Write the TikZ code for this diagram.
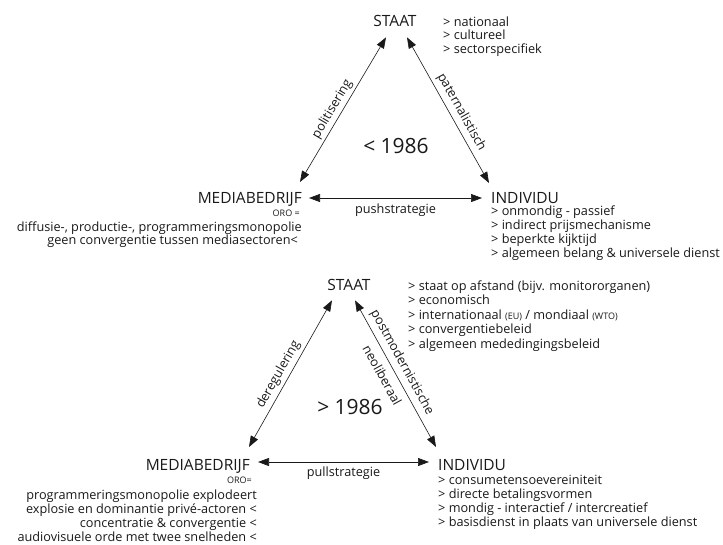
\documentclass[tikz,border=0pt]{standalone}
\usepackage{fontspec}
\setmainfont{Open Sans}
\usetikzlibrary{arrows.meta, positioning, calc}
\newcommand{\klein}[1]{{\fontsize{9}{10}\selectfont #1}}

\begin{document}
\begin{tikzpicture}[x=1pt, y=-1pt, >={Triangle[length=11pt,width=8pt]},
    every node/.style={inner sep=0pt, text=black!90},
    hoofd/.style={font=\fontsize{15.5}{18}\selectfont},
    lijst/.style={font=\fontsize{12.7}{14}\selectfont},
    jaar/.style={font=\fontsize{21}{24}\selectfont},
    pijl/.style={<->, line width=0.6pt, black!90}]
    \useasboundingbox (0,0) rectangle (723,544);

    % bovenste driehoek: < 1986
    \node[hoofd, anchor=base] (staat1) at (395,26) {STAAT};
    \node[hoofd, anchor=base east] (med1) at (302,203) {MEDIABEDRIJF};
    \node[hoofd, anchor=base west] (ind1) at (491,203) {INDIVIDU};
    \node[jaar, anchor=base] (jaar1) at (396,153) {< 1986};

    \foreach \t [count=\i] in {> nationaal, > cultureel, > sectorspecifiek}
        \node[lijst, anchor=base west] (s1\i) at (443,{26+13.5*(\i-1)}) {\t};
    \node[lijst, anchor=base east] (oro1) at (300,216) {\klein{ORO =}};
    \foreach \t [count=\i] in {{diffusie-, productie-, programmeringsmonopolie},
        {geen convergentie tussen mediasectoren<}}
        \node[lijst, anchor=base east] (m1\i) at ({302-4*(\i-1)},{231.5+12.5*(\i-1)}) {\t};
    \foreach \t [count=\i] in {> onmondig - passief, > indirect prijsmechanisme,
        > beperkte kijktijd, > algemeen belang \& universele dienst}
        \node[lijst, anchor=base west] (i1\i) at (491,{215+14.3*(\i-1)}) {\t};

    \draw[pijl] ([xshift=-2pt, yshift=21pt]med1.base east)
        -- node[lijst, sloped, above=2.8pt, pos=0.47] (pol) {politisering}
        ([xshift=-9pt, yshift=-11pt]staat1.south);
    \draw[pijl] ([xshift=12pt, yshift=-11pt]staat1.south)
        -- node[lijst, sloped, above=4pt, pos=0.55] (pat) {paternalistisch}
        ([xshift=-2pt, yshift=20pt]ind1.base west);
    \draw[pijl] ([xshift=7pt, yshift=5pt]med1.base east)
        -- node[lijst, below=6pt] (push) {pushstrategie}
        ([xshift=-9pt, yshift=5pt]ind1.base west);

    % onderste driehoek: > 1986
    \node[hoofd, anchor=base] (staat2) at (349,290) {STAAT};
    \node[hoofd, anchor=base east] (med2) at (250,470) {MEDIABEDRIJF};
    \node[hoofd, anchor=base west] (ind2) at (438,470) {INDIVIDU};
    \node[jaar, anchor=base] (jaar2) at (350,414) {> 1986};

    \foreach \t [count=\i] in {> staat op afstand (bijv. monitororganen), > economisch,
        > internationaal \klein{(EU)} / mondiaal \klein{(WTO)}, > convergentiebeleid,
        > algemeen mededingingsbeleid}
        \node[lijst, anchor=base west] (s2\i) at (408,{290+14.5*(\i-1)}) {\t};
    \node[lijst, anchor=base east] (oro2) at (252,483) {\klein{ORO=}};
    \foreach \t [count=\i] in {programmeringsmonopolie explodeert,
        explosie en dominantie privé-actoren <, concentratie \& convergentie <,
        audiovisuele orde met twee snelheden <}
        \node[lijst, anchor=base east] (m2\i) at (257,{499+14*(\i-1)}) {\t};
    \foreach \t [count=\i] in {> consumetensoevereiniteit, > directe betalingsvormen,
        > mondig - interactief / intercreatief, > basisdienst in plaats van universele dienst}
        \node[lijst, anchor=base west] (i2\i) at (438,{484+14.3*(\i-1)}) {\t};

    \draw[pijl] ([xshift=-1pt, yshift=23pt]med2.base east)
        -- node[lijst, sloped, above=3.3pt, pos=0.46] (dereg) {deregulering}
        ([xshift=-17pt, yshift=-10pt]staat2.south);
    \draw[pijl] ([xshift=6pt, yshift=-10pt]staat2.south)
        -- node[lijst, sloped, above=4.4pt, pos=0.46] (postm) {postmodernistische}
        node[lijst, sloped, below=7pt, pos=0.47] (neol) {neoliberaal}
        ([xshift=-2pt, yshift=23pt]ind2.base west);
    \draw[pijl] ([xshift=8pt, yshift=8pt]med2.base east)
        -- node[lijst, below=5pt] (pull) {pullstrategie}
        ([xshift=-9pt, yshift=8pt]ind2.base west);
\end{tikzpicture}
\end{document}
